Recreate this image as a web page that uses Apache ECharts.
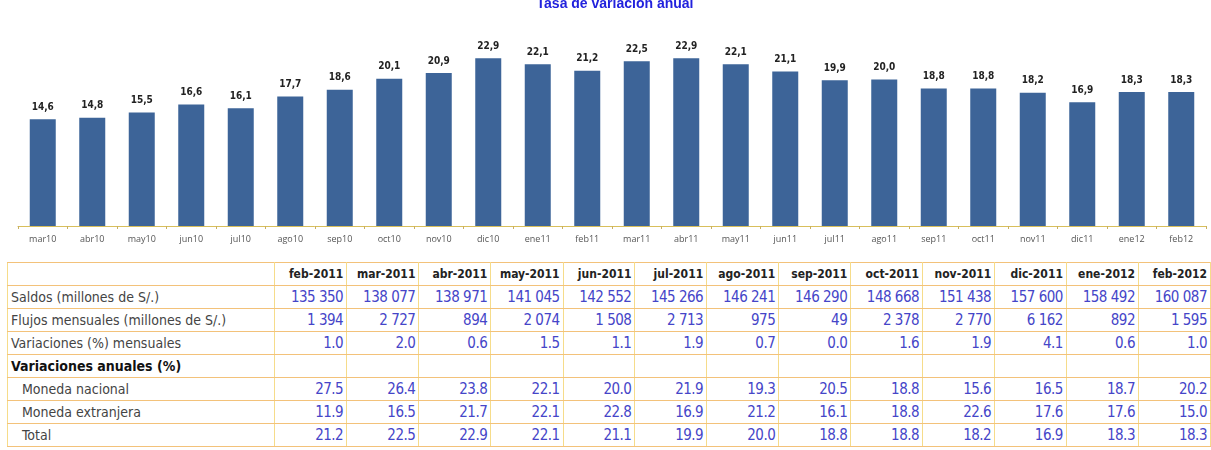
<!DOCTYPE html>
<html>
<head>
<meta charset="utf-8">
<script src="https://cdn.jsdelivr.net/npm/echarts@6/dist/echarts.min.js"></script>
<style>
    body { margin: 0; background: #fff; overflow: hidden; }
    #wrap { position: relative; width: 1211px; height: 450px; overflow: hidden; }
    #chart { position: absolute; left: 0; top: 0; width: 1211px; height: 258px; }
    #tabla { position: absolute; left: 7px; top: 262px; border-collapse: collapse; table-layout: fixed;
             font-family: "Liberation Sans Narrow", "DejaVu Sans Condensed", Arial, sans-serif; }
    #tabla td { height: 22px; padding: 0 3px 0 0; border-top: 1px solid #f3c27a; border-bottom: 1px solid #f3c27a;
                border-left: 1px solid #f6dc8a; border-right: 1px solid #f6dc8a; white-space: nowrap; }
    #tabla td.lab { width: 264px; padding-left: 3px; color: #444; font-size: 14px; text-align: left; }
    #tabla td.num { width: 69px; text-align: right; color: #4545c8; font-size: 15px; letter-spacing: -0.5px; }
    #tabla td.hd { text-align: right; color: #222; font-weight: bold; font-size: 12px; letter-spacing: 0; }
    #tabla td.sub { padding-left: 14px; width: 253px; }
    #tabla td.bold { color: #111; font-weight: bold; }
</style>
</head>
<body>
<div id="wrap">
    <div id="chart"></div>
    <table id="tabla"></table>
</div>
<script>
    // meses del grafico
    var categorias = ['mar10','abr10','may10','jun10','jul10','ago10','sep10','oct10','nov10','dic10','ene11','feb11',
                      'mar11','abr11','may11','jun11','jul11','ago11','sep11','oct11','nov11','dic11','ene12','feb12'];
    var tasaAnual = [14.6, 14.8, 15.5, 16.6, 16.1, 17.7, 18.6, 20.1, 20.9, 22.9, 22.1, 21.2,
                     22.5, 22.9, 22.1, 21.1, 19.9, 20.0, 18.8, 18.8, 18.2, 16.9, 18.3, 18.3];

    // tabla
    var meses = ['feb-2011','mar-2011','abr-2011','may-2011','jun-2011','jul-2011','ago-2011','sep-2011',
                 'oct-2011','nov-2011','dic-2011','ene-2012','feb-2012'];
    var saldos = [135350, 138077, 138971, 141045, 142552, 145266, 146241, 146290, 148668, 151438, 157600, 158492, 160087];
    var flujos = [1394, 2727, 894, 2074, 1508, 2713, 975, 49, 2378, 2770, 6162, 892, 1595];
    var varMensual = [1.0, 2.0, 0.6, 1.5, 1.1, 1.9, 0.7, 0.0, 1.6, 1.9, 4.1, 0.6, 1.0];
    var monedaNacional = [27.5, 26.4, 23.8, 22.1, 20.0, 21.9, 19.3, 20.5, 18.8, 15.6, 16.5, 18.7, 20.2];
    var monedaExtranjera = [11.9, 16.5, 21.7, 22.1, 22.8, 16.9, 21.2, 16.1, 18.8, 22.6, 17.6, 17.6, 15.0];
    var total = [21.2, 22.5, 22.9, 22.1, 21.1, 19.9, 20.0, 18.8, 18.8, 18.2, 16.9, 18.3, 18.3];

    var chart = echarts.init(document.getElementById('chart'));
    chart.setOption({
        animation: false,
        title: {
            text: 'Tasa de variación anual',
            left: 610,
            textAlign: 'center',
            top: -8,
            textStyle: { color: '#2222dd', fontSize: 14, fontWeight: 'bold', fontFamily: 'Arial, sans-serif' }
        },
        grid: { left: 18, right: 5, top: 43, bottom: 32 },
        xAxis: {
            type: 'category',
            data: categorias,
            axisLine: { lineStyle: { color: '#d8bf5c', width: 1 } },
            axisTick: { show: true, length: 3, lineStyle: { color: '#c9b060' } },
            axisLabel: { color: '#555', fontSize: 9, margin: 9, fontFamily: 'Open Sans, sans-serif' }
        },
        yAxis: { type: 'value', min: 0, max: 25, show: false },
        series: [{
            type: 'bar',
            data: tasaAnual,
            barWidth: 26,
            itemStyle: { color: '#3d6498' },
            label: {
                show: true,
                position: 'top',
                distance: 7,
                color: '#222',
                fontSize: 10,
                fontWeight: 'bold',
                fontFamily: 'DejaVu Sans Condensed, sans-serif',
                formatter: function (p) { return p.value.toFixed(1).replace('.', ','); }
            }
        }]
    });

    function miles(n) {
        return String(n).replace(/\B(?=(\d{3})+(?!\d))/g, ' ');
    }
    function dec(n) { return n.toFixed(1); }

    var filas = [
        { nombre: '', datos: meses, cls: 'hd', fmt: function (v) { return v; } },
        { nombre: 'Saldos (millones de S/.)', datos: saldos, fmt: miles },
        { nombre: 'Flujos mensuales (millones de S/.)', datos: flujos, fmt: miles },
        { nombre: 'Variaciones (%) mensuales', datos: varMensual, fmt: dec },
        { nombre: 'Variaciones anuales (%)', datos: null, bold: true },
        { nombre: 'Moneda nacional', datos: monedaNacional, fmt: dec, sub: true },
        { nombre: 'Moneda extranjera', datos: monedaExtranjera, fmt: dec, sub: true },
        { nombre: 'Total', datos: total, fmt: dec, sub: true }
    ];

    var html = '';
    filas.forEach(function (f) {
        var c = 'lab' + (f.sub ? ' sub' : '') + (f.bold ? ' bold' : '');
        html += '<tr><td class="' + c + '">' + f.nombre + '</td>';
        for (var i = 0; i < meses.length; i++) {
            var txt = f.datos ? f.fmt(f.datos[i]) : '';
            html += '<td class="num' + (f.cls ? ' ' + f.cls : '') + '">' + txt + '</td>';
        }
        html += '</tr>';
    });
    document.getElementById('tabla').innerHTML = html;
</script>
</body>
</html>
